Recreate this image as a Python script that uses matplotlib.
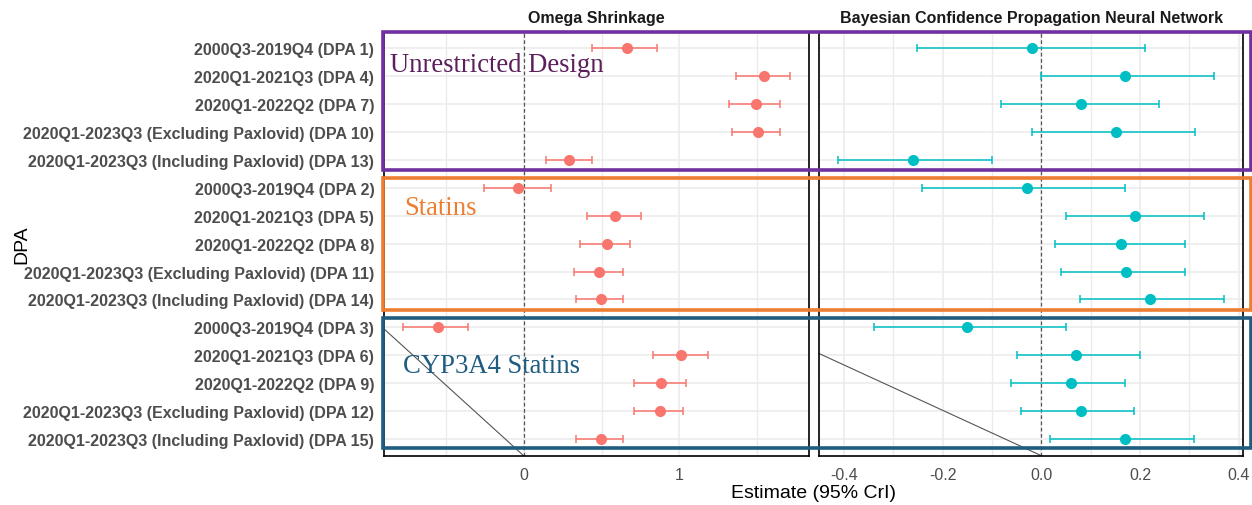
import matplotlib
matplotlib.use('Agg')
import matplotlib.pyplot as plt
from matplotlib.patches import Rectangle
import matplotlib.transforms as mtransforms
import numpy as np

# ── dados, de cima para baixo
rotulos = [
    "2000Q3-2019Q4 (DPA 1)",
    "2020Q1-2021Q3 (DPA 4)",
    "2020Q1-2022Q2 (DPA 7)",
    "2020Q1-2023Q3 (Excluding Paxlovid) (DPA 10)",
    "2020Q1-2023Q3 (Including Paxlovid) (DPA 13)",
    "2000Q3-2019Q4 (DPA 2)",
    "2020Q1-2021Q3 (DPA 5)",
    "2020Q1-2022Q2 (DPA 8)",
    "2020Q1-2023Q3 (Excluding Paxlovid) (DPA 11)",
    "2020Q1-2023Q3 (Including Paxlovid) (DPA 14)",
    "2000Q3-2019Q4 (DPA 3)",
    "2020Q1-2021Q3 (DPA 6)",
    "2020Q1-2022Q2 (DPA 9)",
    "2020Q1-2023Q3 (Excluding Paxlovid) (DPA 12)",
    "2020Q1-2023Q3 (Including Paxlovid) (DPA 15)",
]

omega_est = [0.662, 1.541, 1.492, 1.501, 0.292,
             -0.036, 0.583, 0.534, 0.482, 0.495,
             -0.551, 1.010, 0.881, 0.873, 0.495]
omega_lo = [0.440, 1.360, 1.318, 1.338, 0.141,
            -0.253, 0.405, 0.360, 0.322, 0.337,
            -0.774, 0.830, 0.710, 0.710, 0.337]
omega_hi = [0.858, 1.711, 1.646, 1.646, 0.440,
            0.174, 0.752, 0.680, 0.635, 0.635,
            -0.354, 1.183, 1.040, 1.021, 0.637]

bcpnn_est = [-0.020, 0.170, 0.080, 0.151, -0.261,
             -0.030, 0.189, 0.161, 0.171, 0.220,
             -0.151, 0.070, 0.060, 0.080, 0.170]
bcpnn_lo = [-0.251, 0.000, -0.081, -0.020, -0.411,
            -0.241, 0.049, 0.028, 0.039, 0.079,
            -0.340, -0.050, -0.061, -0.041, 0.018]
bcpnn_hi = [0.209, 0.349, 0.239, 0.311, -0.101,
            0.170, 0.330, 0.290, 0.290, 0.369,
            0.049, 0.199, 0.170, 0.188, 0.310]

grupos = ["Unrestricted Design", "Statins", "CYP3A4 Statins"]

COR_OMEGA = '#F8766D'
COR_BCPNN = '#00BFC4'
CINZA_GRID = '#EBEBEB'
CINZA_TXT = '#4D4D4D'

W, H = 1252, 506
fig = plt.figure(figsize=(W / 100, H / 100), dpi=100)

def fx(px):
    return px / W

def fy(py):
    return 1 - py / H

ax1 = fig.add_axes([fx(384), fy(456.7), fx(809) - fx(384), fy(32.6) - fy(456.7)])
ax2 = fig.add_axes([fx(819), fy(456.7), fx(1243.3) - fx(819), fy(32.6) - fy(456.7)])

n = len(rotulos)
ys = np.arange(n)

paineis = [
    (ax1, omega_est, omega_lo, omega_hi, COR_OMEGA, "Omega Shrinkage",
     (-0.896, 1.831), [0, 1], ['0', '1'], [-0.5, 0.5, 1.5]),
    (ax2, bcpnn_est, bcpnn_lo, bcpnn_hi, COR_BCPNN,
     "Bayesian Confidence Propagation Neural Network",
     (-0.4505, 0.409), [-0.4, -0.2, 0.0, 0.2, 0.4],
     ['-0.4', '-0.2', '0.0', '0.2', '0.4'], [-0.3, -0.1, 0.1, 0.3]),
]

for ax, est, lo, hi, cor, titulo, xlim, xt, xtl, xminor in paineis:
    ax.set_xlim(*xlim)
    ax.set_ylim(n - 0.4, -0.6)
    ax.set_xticks(xt)
    ax.set_xticklabels(xtl)
    ax.set_xticks(xminor, minor=True)
    ax.set_yticks(ys)
    ax.grid(True, which='major', color=CINZA_GRID, linewidth=1.1, zorder=0)
    ax.grid(True, which='minor', axis='x', color=CINZA_GRID, linewidth=1.0, zorder=0)
    ax.set_axisbelow(True)
    ax.tick_params(which='both', length=0, labelsize=11.5, colors=CINZA_TXT)
    ax.tick_params(axis='x', pad=8)
    ax.tick_params(axis='y', pad=7)
    for sp in ax.spines.values():
        sp.set_edgecolor('black')
        sp.set_linewidth(1.2)
    ax.axvline(0, color='#555555', linestyle=(0, (3, 2)), linewidth=0.9, zorder=1)
    est = np.array(est)
    xerr = [est - np.array(lo), np.array(hi) - est]
    ax.errorbar(est, ys, xerr=xerr, fmt='o', color=cor, ecolor=cor,
                elinewidth=1.1, capsize=2.6, capthick=1.1, markersize=7, zorder=3)
    ax.set_title(titulo, fontsize=11.5, fontweight='bold', color='#1A1A1A',
                 family='Liberation Sans', pad=7)
    # linha diagonal que aparece no original
    trans = mtransforms.blended_transform_factory(ax.transData, ax.transAxes)
    ax.plot([xlim[0], 0], [0.299 if ax is ax1 else 0.241, 0], color='#555555',
            linewidth=0.8, transform=trans, zorder=2, clip_on=False)

ax1.set_yticklabels(rotulos, fontsize=11.5, fontweight='bold', color=CINZA_TXT,
                    family='Liberation Sans')
ax2.set_yticklabels([])
for ax in (ax1, ax2):
    for lbl in ax.get_xticklabels():
        lbl.set_family('Liberation Sans')

fig.text(fx(22), fy(245), "DPA", rotation=90, ha='center', va='center',
         fontsize=14, family='Liberation Sans')
fig.text(fx(814), fy(494), "Estimate (95% CrI)", ha='center', va='center',
         fontsize=14, family='Liberation Sans')

# ── caixas dos grupos
caixas = [
    (33, 171, '#7030A0', '#5C1F5C', grupos[0], 390, 72),
    (179, 311, '#ED7D31', '#ED7D31', grupos[1], 404, 215),
    (318.5, 449, '#1F5C80', '#1F5C80', grupos[2], 403, 373),
]
for top, bot, cor_caixa, cor_txt, nome, tx, ty in caixas:
    r = Rectangle((fx(383), fy(bot)), fx(1250.5) - fx(383), fy(top) - fy(bot),
                  transform=fig.transFigure, fill=False, edgecolor=cor_caixa,
                  linewidth=2.6, zorder=10)
    fig.patches.append(r)
    fig.text(fx(tx), fy(ty), nome, ha='left', va='baseline', fontsize=19.2,
             family='Liberation Serif', color=cor_txt, zorder=11)

plt.savefig('out.png', dpi=100, facecolor='white')
